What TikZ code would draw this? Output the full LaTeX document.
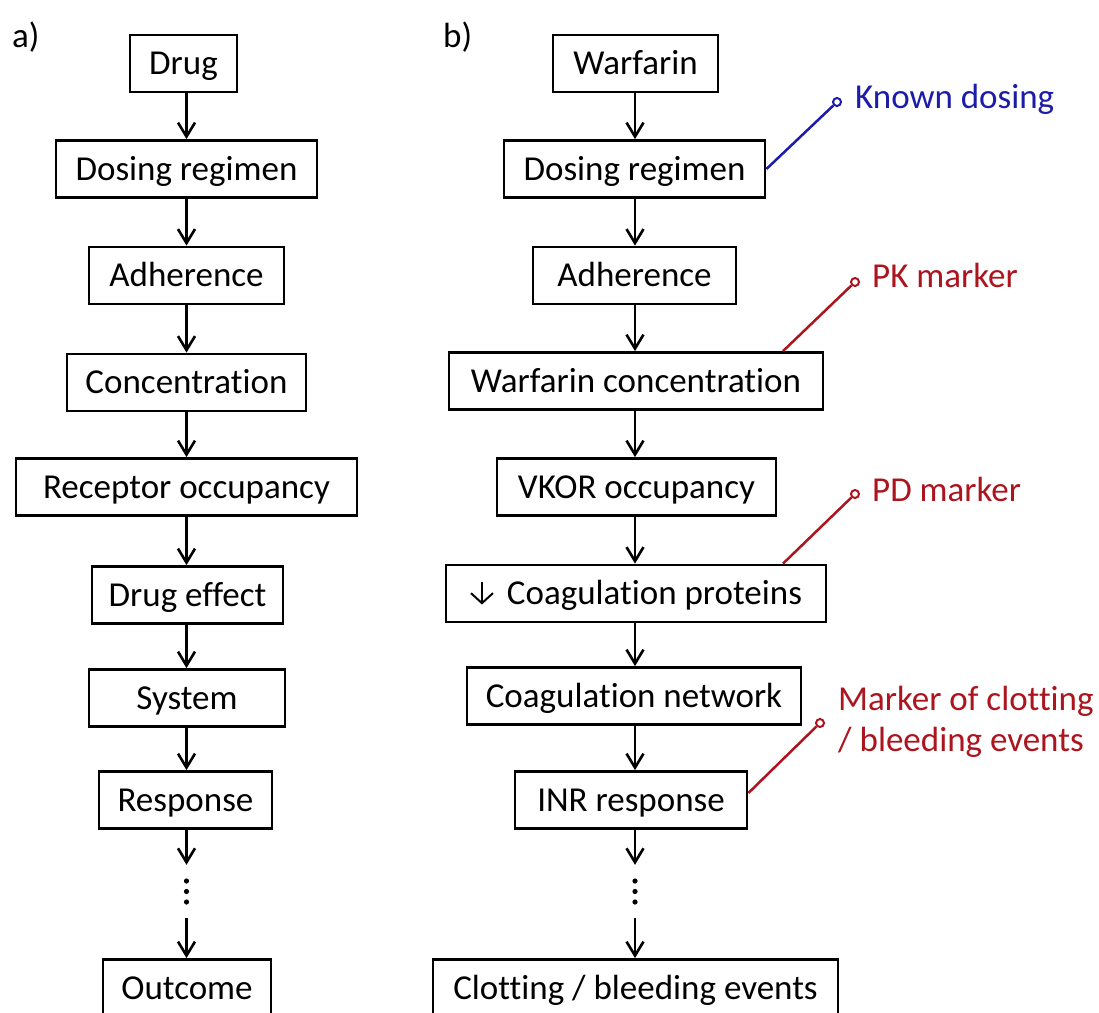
\documentclass[tikz,border=0pt]{standalone}
\usepackage{fontspec}
\setmainfont{Carlito}[Ligatures=NoCommon]
\usetikzlibrary{arrows.meta}
\definecolor{knownblue}{RGB}{28,28,168}
\definecolor{markred}{RGB}{172,20,30}
\newcommand{\downarrowglyph}{%
  \tikz[baseline=0pt, x=1pt, y=1pt]
    \draw[line width=2pt, -{Straight Barb[length=10pt,width=22pt,line width=2pt]}]
      (0,23) -- (0,0);}
\tikzset{
  stage/.style={draw, line width=2.8pt, minimum height=57pt, inner ysep=4pt,
    inner xsep=6pt, text height=28pt, text depth=6pt,
    font=\fontsize{35}{41}\selectfont},
  flow/.style={line width=2.6pt, -{Straight Barb[length=14pt,width=17pt]}},
  vdots/.style={inner sep=0pt, minimum width=6pt, minimum height=53pt},
  panel/.style={anchor=base west, inner sep=0pt, font=\fontsize{35}{41}\selectfont},
  tag/.style={circle, draw=#1, fill=white, line width=2pt, inner sep=0pt, minimum size=8pt},
  tagline/.style={draw=#1, line width=2.5pt},
  tagtext/.style={text=#1, inner sep=0pt, font=\fontsize{35}{41}\selectfont}
}
\begin{document}
\begin{tikzpicture}[x=1pt, y=-1pt]
\useasboundingbox (0,0) rectangle (1099,1012);
\clip (0,0) rectangle (1099,1012);
\fill[white] (0,0) rectangle (1099,1012);

% column axes
\coordinate (colA) at (186.5,0);
\coordinate (colB) at (635,0);

% panel labels
\node[panel] (pa) at (12,47) {a)};
\node[panel] (pb) at (443,47) {b)};

% ---- a) generic chain ----
\node[stage, minimum width=107pt] (drugA) at (183.5,63.5) {Drug};
\node[stage, minimum width=261pt] (doseA) at (186.5,169) {Dosing regimen};
\node[stage, minimum width=195pt] (adhA)  at (186.5,275.5) {Adherence};
\node[stage, minimum width=239pt] (concA) at (186.5,382.5) {Concentration};
\node[stage, minimum width=341pt] (recA)  at (186.5,487) {Receptor occupancy};
\node[stage, minimum width=191pt] (effA)  at (187.5,595) {Drug effect};
\node[stage, minimum width=196pt] (sysA)  at (187,698) {System};
\node[stage, minimum width=173pt] (respA) at (185.5,800) {Response};
\node[vdots] (dotsA) at (186.5,891.5) {};
\node[stage, minimum width=168pt] (outA)  at (187,988) {Outcome};

\foreach \a/\b in {drugA/doseA, doseA/adhA, adhA/concA, concA/recA,
                   recA/effA, effA/sysA, sysA/respA}
  \draw[flow] (\a.south -| colA) -- (\b.north -| colA);
\draw[flow] (respA.south -| colA) -- (dotsA.north);
\draw[flow] (dotsA.south) -- (outA.north -| colA);
\foreach \d in {-10.5,0,10.5}
  \fill ([yshift=\d pt]dotsA.center) circle[radius=2.6pt];

% ---- b) warfarin chain ----
\node[stage, minimum width=165pt] (warfB) at (635.5,63.5) {Warfarin};
\node[stage, minimum width=261pt] (doseB) at (634.5,169) {Dosing regimen};
\node[stage, minimum width=203pt] (adhB)  at (634.5,275.5) {Adherence};
\node[stage, minimum width=374pt] (concB) at (636,381) {Warfarin concentration};
\node[stage, minimum width=279pt] (vkorB) at (636.5,487) {VKOR occupancy};
\node[stage, minimum width=380pt] (coagB) at (636,593.5) {\downarrowglyph\hspace{13pt}Coagulation proteins};
\node[stage, minimum width=334pt] (netB)  at (634,696) {Coagulation network};
\node[stage, minimum width=232pt] (inrB)  at (631,800) {INR response};
\node[vdots] (dotsB) at (635,891.5) {};
\node[stage, minimum width=405pt] (clotB) at (635.5,988) {Clotting / bleeding events};

\foreach \a/\b in {warfB/doseB, doseB/adhB, adhB/concB, concB/vkorB,
                   vkorB/coagB, coagB/netB, netB/inrB}
  \draw[flow] (\a.south -| colB) -- (\b.north -| colB);
\draw[flow] (inrB.south -| colB) -- (dotsB.north);
\draw[flow] (dotsB.south) -- (clotB.north -| colB);
\foreach \d in {-10.5,0,10.5}
  \fill ([yshift=\d pt]dotsB.center) circle[radius=2.6pt];

% ---- markers ----
\node[tag=knownblue] (kdTag) at (837,102) {};
\node[tagtext=knownblue, anchor=base west] (kdText) at (855,108) {Known dosing};
\draw[tagline=knownblue] (doseB.east) -- (kdTag);

\node[tag=markred] (pkTag) at (855,282) {};
\node[tagtext=markred, anchor=base west] (pkText) at (872,287) {PK marker};
\draw[tagline=markred] ([xshift=147pt]concB.north) -- (pkTag);

\node[tag=markred] (pdTag) at (855,494) {};
\node[tagtext=markred, anchor=base west] (pdText) at (872,501) {PD marker};
\draw[tagline=markred] ([xshift=147pt]coagB.north) -- (pdTag);

\node[tag=markred] (clTag) at (820,723) {};
\node[tagtext=markred, anchor=west, align=left] (clText) at (838,722)
  {Marker of clotting\\/ bleeding events};
\draw[tagline=markred] ([yshift=7pt]inrB.east) -- (clTag);
\end{tikzpicture}
\end{document}
